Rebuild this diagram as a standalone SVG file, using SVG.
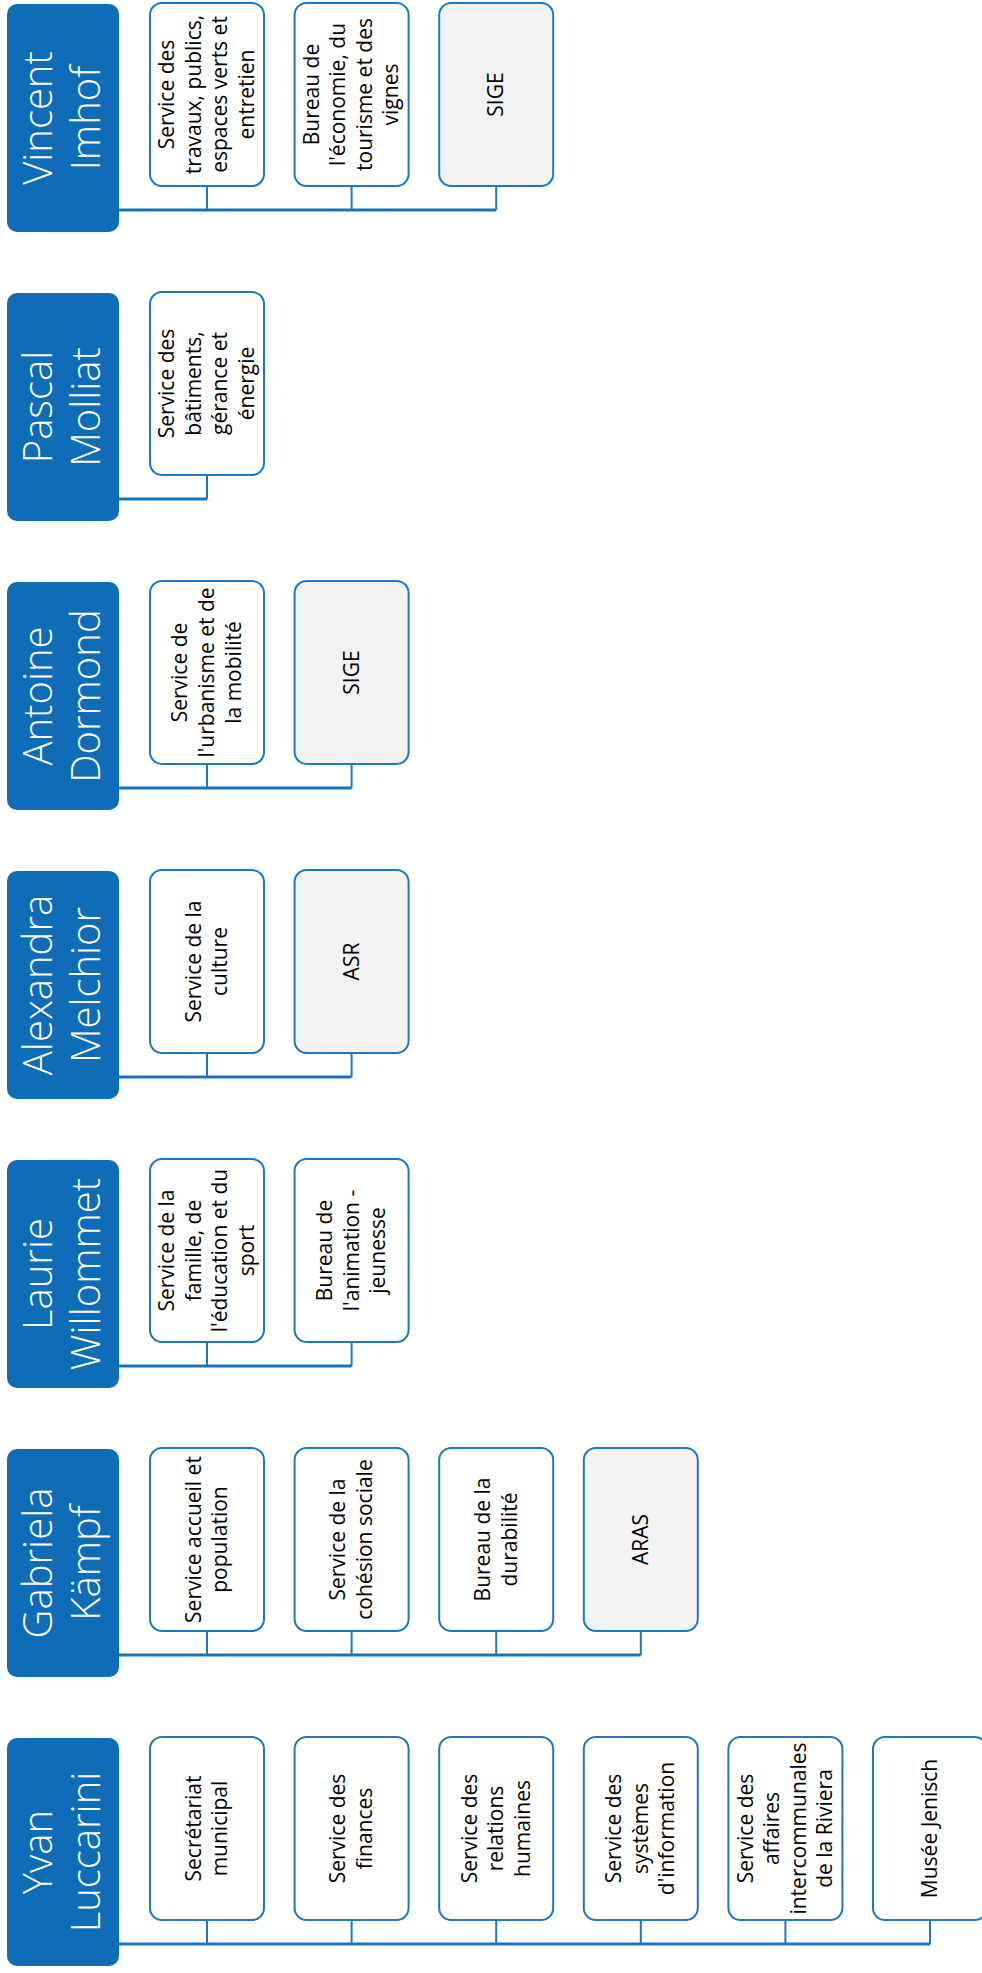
<svg xmlns="http://www.w3.org/2000/svg" width="982" height="1973" viewBox="0 0 982 1973">
<style>
.hd{fill:#0F6CB6;}
.ch{fill:#FFFFFF;stroke:#1F77BF;stroke-width:2;}
.gr{fill:#F2F2F2;stroke:#1F77BF;stroke-width:2;}
.ht{fill:#FFFFFF;font-family:"Open Sans","Liberation Sans",sans-serif;font-size:40px;font-weight:300;text-anchor:middle;}
.ct{fill:#000000;font-family:"Open Sans","Liberation Sans",sans-serif;font-size:21px;text-anchor:middle;}
.trunk{fill:none;stroke:#1B72BA;stroke-width:3;}
.drop{fill:none;stroke:#1F77BF;stroke-width:2;}
</style>
<rect width="982" height="1973" fill="#FFFFFF"/>
<g id="connectors">
<path class="trunk" d="M119 210H496.2"/>
<path class="drop" d="M207 187V210M351.6 187V210M496.2 187V210"/>
<path class="trunk" d="M119 499H207"/>
<path class="drop" d="M207 476V499"/>
<path class="trunk" d="M119 788H351.6"/>
<path class="drop" d="M207 765V788M351.6 765V788"/>
<path class="trunk" d="M119 1077H351.6"/>
<path class="drop" d="M207 1054V1077M351.6 1054V1077"/>
<path class="trunk" d="M119 1366H351.6"/>
<path class="drop" d="M207 1343V1366M351.6 1343V1366"/>
<path class="trunk" d="M119 1655H640.8"/>
<path class="drop" d="M207 1632V1655M351.6 1632V1655M496.2 1632V1655M640.8 1632V1655"/>
<path class="trunk" d="M119 1944H930"/>
<path class="drop" d="M207 1921V1944M351.6 1921V1944M496.2 1921V1944M640.8 1921V1944M785.4 1921V1944M930 1921V1944"/>
</g>

<!-- Vincent Imhof -->
<g id="vincent-imhof">
<rect class="hd" x="7" y="4" width="112" height="228" rx="10"/>
<text class="ht" transform="translate(63,118) rotate(-90)"><tspan x="0" y="-11">Vincent</tspan><tspan x="0" y="37">Imhof</tspan></text>
</g>
<g id="vi-travaux">
<rect class="ch" x="150" y="3" width="114" height="183" rx="12"/>
<text class="ct" transform="translate(207,94.5) rotate(-90)"><tspan x="0" y="-32.9">Service des</tspan><tspan x="0" y="-6.3">travaux, publics,</tspan><tspan x="0" y="20.3">espaces verts et</tspan><tspan x="0" y="46.9">entretien</tspan></text>
</g>
<g id="vi-economie">
<rect class="ch" x="294.6" y="3" width="114" height="183" rx="12"/>
<text class="ct" transform="translate(351.6,94.5) rotate(-90)"><tspan x="0" y="-32.9">Bureau de</tspan><tspan x="0" y="-6.3">l'économie, du</tspan><tspan x="0" y="20.3">tourisme et des</tspan><tspan x="0" y="46.9">vignes</tspan></text>
</g>
<g id="vi-sige">
<rect class="gr" x="439.2" y="3" width="114" height="183" rx="12"/>
<text class="ct" transform="translate(496.2,94.5) rotate(-90)"><tspan x="0" y="7">SIGE</tspan></text>
</g>

<!-- Pascal Molliat -->
<g id="pascal-molliat">
<rect class="hd" x="7" y="293" width="112" height="228" rx="10"/>
<text class="ht" transform="translate(63,407) rotate(-90)"><tspan x="0" y="-11">Pascal</tspan><tspan x="0" y="37">Molliat</tspan></text>
</g>
<g id="pm-batiments">
<rect class="ch" x="150" y="292" width="114" height="183" rx="12"/>
<text class="ct" transform="translate(207,383.5) rotate(-90)"><tspan x="0" y="-32.9">Service des</tspan><tspan x="0" y="-6.3">bâtiments,</tspan><tspan x="0" y="20.3">gérance et</tspan><tspan x="0" y="46.9">énergie</tspan></text>
</g>

<!-- Antoine Dormond -->
<g id="antoine-dormond">
<rect class="hd" x="7" y="582" width="112" height="228" rx="10"/>
<text class="ht" transform="translate(63,696) rotate(-90)"><tspan x="0" y="-11">Antoine</tspan><tspan x="0" y="37">Dormond</tspan></text>
</g>
<g id="ad-urbanisme">
<rect class="ch" x="150" y="581" width="114" height="183" rx="12"/>
<text class="ct" transform="translate(207,672.5) rotate(-90)"><tspan x="0" y="-19.6">Service de</tspan><tspan x="0" y="7">l'urbanisme et de</tspan><tspan x="0" y="33.6">la mobilité</tspan></text>
</g>
<g id="ad-sige">
<rect class="gr" x="294.6" y="581" width="114" height="183" rx="12"/>
<text class="ct" transform="translate(351.6,672.5) rotate(-90)"><tspan x="0" y="7">SIGE</tspan></text>
</g>

<!-- Alexandra Melchior -->
<g id="alexandra-melchior">
<rect class="hd" x="7" y="871" width="112" height="228" rx="10"/>
<text class="ht" transform="translate(63,985) rotate(-90)"><tspan x="0" y="-11">Alexandra</tspan><tspan x="0" y="37">Melchior</tspan></text>
</g>
<g id="am-culture">
<rect class="ch" x="150" y="870" width="114" height="183" rx="12"/>
<text class="ct" transform="translate(207,961.5) rotate(-90)"><tspan x="0" y="-6.3">Service de la</tspan><tspan x="0" y="20.3">culture</tspan></text>
</g>
<g id="am-asr">
<rect class="gr" x="294.6" y="870" width="114" height="183" rx="12"/>
<text class="ct" transform="translate(351.6,961.5) rotate(-90)"><tspan x="0" y="7">ASR</tspan></text>
</g>

<!-- Laurie Willommet -->
<g id="laurie-willommet">
<rect class="hd" x="7" y="1160" width="112" height="228" rx="10"/>
<text class="ht" transform="translate(63,1274) rotate(-90)"><tspan x="0" y="-11">Laurie</tspan><tspan x="0" y="37">Willommet</tspan></text>
</g>
<g id="lw-famille">
<rect class="ch" x="150" y="1159" width="114" height="183" rx="12"/>
<text class="ct" transform="translate(207,1250.5) rotate(-90)"><tspan x="0" y="-32.9">Service de la</tspan><tspan x="0" y="-6.3">famille, de</tspan><tspan x="0" y="20.3">l'éducation et du</tspan><tspan x="0" y="46.9">sport</tspan></text>
</g>
<g id="lw-animation">
<rect class="ch" x="294.6" y="1159" width="114" height="183" rx="12"/>
<text class="ct" transform="translate(351.6,1250.5) rotate(-90)"><tspan x="0" y="-19.6">Bureau de</tspan><tspan x="0" y="7">l'animation -</tspan><tspan x="0" y="33.6">jeunesse</tspan></text>
</g>

<!-- Gabriela Kämpf -->
<g id="gabriela-kampf">
<rect class="hd" x="7" y="1449" width="112" height="228" rx="10"/>
<text class="ht" transform="translate(63,1563) rotate(-90)"><tspan x="0" y="-11">Gabriela</tspan><tspan x="0" y="37">Kämpf</tspan></text>
</g>
<g id="gk-accueil">
<rect class="ch" x="150" y="1448" width="114" height="183" rx="12"/>
<text class="ct" transform="translate(207,1539.5) rotate(-90)"><tspan x="0" y="-6.3">Service accueil et</tspan><tspan x="0" y="20.3">population</tspan></text>
</g>
<g id="gk-cohesion">
<rect class="ch" x="294.6" y="1448" width="114" height="183" rx="12"/>
<text class="ct" transform="translate(351.6,1539.5) rotate(-90)"><tspan x="0" y="-6.3">Service de la</tspan><tspan x="0" y="20.3">cohésion sociale</tspan></text>
</g>
<g id="gk-durabilite">
<rect class="ch" x="439.2" y="1448" width="114" height="183" rx="12"/>
<text class="ct" transform="translate(496.2,1539.5) rotate(-90)"><tspan x="0" y="-6.3">Bureau de la</tspan><tspan x="0" y="20.3">durabilité</tspan></text>
</g>
<g id="gk-aras">
<rect class="gr" x="583.8" y="1448" width="114" height="183" rx="12"/>
<text class="ct" transform="translate(640.8,1539.5) rotate(-90)"><tspan x="0" y="7">ARAS</tspan></text>
</g>

<!-- Yvan Luccarini -->
<g id="yvan-luccarini">
<rect class="hd" x="7" y="1738" width="112" height="228" rx="10"/>
<text class="ht" transform="translate(63,1852) rotate(-90)"><tspan x="0" y="-11">Yvan</tspan><tspan x="0" y="37">Luccarini</tspan></text>
</g>
<g id="yl-secretariat">
<rect class="ch" x="150" y="1737" width="114" height="183" rx="12"/>
<text class="ct" transform="translate(207,1828.5) rotate(-90)"><tspan x="0" y="-6.3">Secrétariat</tspan><tspan x="0" y="20.3">municipal</tspan></text>
</g>
<g id="yl-finances">
<rect class="ch" x="294.6" y="1737" width="114" height="183" rx="12"/>
<text class="ct" transform="translate(351.6,1828.5) rotate(-90)"><tspan x="0" y="-6.3">Service des</tspan><tspan x="0" y="20.3">finances</tspan></text>
</g>
<g id="yl-rh">
<rect class="ch" x="439.2" y="1737" width="114" height="183" rx="12"/>
<text class="ct" transform="translate(496.2,1828.5) rotate(-90)"><tspan x="0" y="-19.6">Service des</tspan><tspan x="0" y="7">relations</tspan><tspan x="0" y="33.6">humaines</tspan></text>
</g>
<g id="yl-si">
<rect class="ch" x="583.8" y="1737" width="114" height="183" rx="12"/>
<text class="ct" transform="translate(640.8,1828.5) rotate(-90)"><tspan x="0" y="-19.6">Service des</tspan><tspan x="0" y="7">systèmes</tspan><tspan x="0" y="33.6">d'information</tspan></text>
</g>
<g id="yl-riviera">
<rect class="ch" x="728.4" y="1737" width="114" height="183" rx="12"/>
<text class="ct" transform="translate(785.4,1828.5) rotate(-90)"><tspan x="0" y="-32.9">Service des</tspan><tspan x="0" y="-6.3">affaires</tspan><tspan x="0" y="20.3">intercommunales</tspan><tspan x="0" y="46.9">de la Riviera</tspan></text>
</g>
<g id="yl-jenisch">
<rect class="ch" x="873" y="1737" width="114" height="183" rx="12"/>
<text class="ct" transform="translate(930,1828.5) rotate(-90)"><tspan x="0" y="7">Musée Jenisch</tspan></text>
</g>
</svg>
